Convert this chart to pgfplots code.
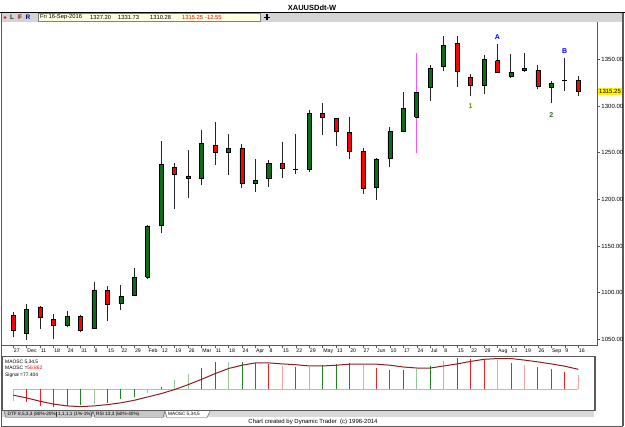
\documentclass[border=0pt]{standalone}
\usepackage{pgfplots}
\pgfplotsset{compat=1.18}
\usepackage{fontspec}
\setmainfont{Liberation Sans}

\definecolor{cgreen}{RGB}{10,110,20}
\definecolor{cred}{RGB}{255,0,0}
\definecolor{hg}{RGB}{30,130,30}
\definecolor{hlg}{RGB}{150,200,150}
\definecolor{hr}{RGB}{240,30,30}
\definecolor{hlr}{RGB}{250,160,160}
\definecolor{sig}{RGB}{140,30,35}
\definecolor{toolbar}{RGB}{212,212,212}
\definecolor{infobg}{RGB}{255,255,225}
\definecolor{frame}{RGB}{90,90,90}
\definecolor{mag}{RGB}{255,80,255}
\definecolor{one}{RGB}{110,140,0}
\definecolor{two}{RGB}{30,110,40}

% [wick colour]{position}{open}{high}{low}{close}{fill}
\newcommand{\candle}[7][black!85]{%
  \addplot[#1, line width=1pt] coordinates {(#2,#5) (#2,#4)};
  \addplot[draw=black, fill=#7, line width=0.7pt, line join=miter] coordinates {
    ({#2-0.15},#3) ({#2+0.15},#3) ({#2+0.15},#6) ({#2-0.15},#6) ({#2-0.15},#3)};}

\begin{document}
\begin{tikzpicture}
\useasboundingbox (0pt,0pt) rectangle (625pt,427pt);
% title bar
\node[font=\bfseries\fontsize{7.5}{9}\selectfont] at (312pt,419.5pt) {XAUUSDdt-W};
\draw[black, line width=0.8pt] (0pt,414.5pt) -- (625pt,414.5pt);
% toolbar
\fill[toolbar] (1.5pt,405pt) rectangle (622.5pt,414pt);
\fill[red] (5pt,409.5pt) circle (1.3pt);
\node[font=\bfseries\fontsize{6.5}{7}\selectfont, text=black!80] at (12pt,409.5pt) {L};
\node[font=\bfseries\fontsize{6.5}{7}\selectfont, text={rgb,255:red,128;green,0;blue,0}] at (20pt,409.5pt) {F};
\node[font=\bfseries\fontsize{6.5}{7}\selectfont, text={rgb,255:red,0;green,0;blue,128}] at (28pt,409.5pt) {R};
\draw[gray, fill=infobg, line width=0.4pt] (38pt,405.5pt) rectangle (260pt,413.5pt);
\begin{scope}[every node/.style={font=\fontsize{5.8}{7}\selectfont, anchor=west, inner sep=0pt}]
\node at (40pt,409.5pt) {Fri 16-Sep-2016};
\node at (90pt,409.5pt) {1327.20};
\node at (118pt,409.5pt) {1331.73};
\node at (150pt,409.5pt) {1310.28};
\node[text=red] at (182pt,409.5pt) {1315.25};
\node[text=red] at (205pt,409.5pt) {-12.55};
\end{scope}
\draw[line width=1.3pt] (264pt,409.5pt) -- (270pt,409.5pt) (267pt,406.5pt) -- (267pt,412.5pt);
% window borders
\draw[frame, line width=1pt] (1pt,0.5pt) -- (1pt,414pt);
\draw[frame, line width=1.5pt] (623pt,0.5pt) -- (623pt,414pt);
\draw[frame, line width=1pt] (1pt,0.5pt) -- (623pt,0.5pt);

% ---------------- price panel ----------------
\begin{axis}[
  at={(2pt,81pt)}, anchor=south west, scale only axis,
  width=596pt, height=324pt,
  xmin=-0.84, xmax=43.47, ymin=1042.8, ymax=1390,
  axis x line*=bottom, axis y line*=right,
  axis line style={draw=frame, line width=1pt},
  tick style={draw=frame, line width=0.5pt},
  tick align=outside, major tick length=2.5pt,
  clip=false,
  xtick={0,...,42},
  xticklabels={27,Dec,11,18,24,31,8,15,22,29,Feb,12,19,26,Mar,11,18,24,Apr,8,15,22,29,May,13,20,27,Jun,10,17,24,Jul,8,15,22,29,Aug,12,19,26,Sep,9,16},
  xticklabel style={font=\fontsize{5.2}{6}\selectfont, anchor=north west, inner xsep=0.5pt, inner ysep=0.5pt},
  ytick={1050,1100,1150,1200,1250,1300,1350},
  yticklabels={1050.00,1100.00,1150.00,1200.00,1250.00,1300.00,1350.00},
  yticklabel style={font=\fontsize{6}{7}\selectfont, inner xsep=0.8pt},
]
\candle{0}{1076.0}{1078.9}{1052.1}{1059.2}{cred}
\candle{1}{1056.0}{1087.5}{1049.3}{1081.7}{cgreen}
\candle{2}{1084.6}{1085.5}{1061.4}{1073.5}{cred}
\candle{3}{1071.4}{1076.7}{1050.0}{1065.0}{cred}
\candle{4}{1065.0}{1080.7}{1062.8}{1074.6}{cgreen}
\candle{5}{1074.6}{1076.0}{1057.5}{1060.0}{cred}
\candle{6}{1061.4}{1111.0}{1061.0}{1102.5}{cgreen}
\candle{7}{1102.1}{1107.1}{1070.0}{1087.5}{cred}
\candle{8}{1088.2}{1108.2}{1081.7}{1096.0}{cgreen}
\candle{9}{1096.7}{1126.8}{1096.0}{1116.4}{cgreen}
\candle{10}{1116.4}{1172.5}{1114.3}{1171.4}{cgreen}
\candle{11}{1171.7}{1262.1}{1163.5}{1237.1}{cgreen}
\candle{12}{1234.2}{1238.5}{1190.0}{1226.4}{cred}
\candle{13}{1225.0}{1252.8}{1201.0}{1222.5}{cred}
\candle{14}{1222.1}{1273.9}{1215.0}{1260.0}{cgreen}
\candle{15}{1258.2}{1282.5}{1237.1}{1250.0}{cred}
\candle{16}{1250.0}{1270.0}{1225.7}{1254.3}{cgreen}
\candle{17}{1254.3}{1259.2}{1211.7}{1216.7}{cred}
\candle{18}{1216.7}{1242.8}{1207.8}{1220.3}{cgreen}
\candle{19}{1222.1}{1241.7}{1213.5}{1238.5}{cgreen}
\candle{20}{1238.5}{1261.4}{1223.2}{1232.8}{cred}
\candle{21}{1232.3}{1269.6}{1226.8}{1232.1}{black}
\candle{22}{1231.8}{1295.7}{1229.6}{1292.1}{cgreen}
\candle{23}{1292.1}{1303.2}{1268.5}{1287.5}{cred}
\candle{24}{1286.8}{1287.5}{1256.7}{1272.5}{cred}
\candle{25}{1271.8}{1287.8}{1243.5}{1251.7}{cred}
\candle{26}{1251.4}{1254.6}{1206.0}{1212.1}{cred}
\candle{27}{1212.5}{1244.2}{1199.2}{1243.2}{cgreen}
\candle{28}{1243.5}{1277.5}{1234.6}{1272.8}{cgreen}
\candle{29}{1273.2}{1315.0}{1272.1}{1297.5}{cgreen}
\candle[mag]{30}{1288.2}{1357.1}{1250.0}{1314.2}{cgreen}
\candle{31}{1319.6}{1343.9}{1305.7}{1340.3}{cgreen}
\candle{32}{1342.1}{1375.0}{1337.1}{1365.3}{cgreen}
\candle{33}{1367.1}{1375.0}{1320.7}{1337.1}{cred}
\candle{34}{1331.0}{1334.2}{1310.3}{1321.7}{cred}
\candle{35}{1322.1}{1354.6}{1312.5}{1350.0}{cgreen}
\candle{36}{1348.5}{1366.4}{1335.5}{1336.0}{cred}
\candle{37}{1331.7}{1355.7}{1330.3}{1335.7}{cgreen}
\candle{38}{1337.8}{1356.4}{1336.0}{1340.3}{cgreen}
\candle{39}{1338.5}{1343.5}{1317.8}{1320.7}{cred}
\candle{40}{1319.6}{1326.4}{1302.8}{1324.2}{cgreen}
\candle{41}{1327.5}{1351.4}{1316.4}{1327.4}{black}
\candle{42}{1327.20}{1331.73}{1310.28}{1315.25}{cred}
% annotations
\node[text=blue, font=\bfseries\fontsize{7}{8}\selectfont] at (axis cs:36,1373.6) {A};
\node[text=blue, font=\bfseries\fontsize{7}{8}\selectfont] at (axis cs:41,1359.2) {B};
\node[text=one, font=\bfseries\fontsize{7}{8}\selectfont] at (axis cs:34,1300.0) {1};
\node[text=two, font=\bfseries\fontsize{7}{8}\selectfont] at (axis cs:40,1290.6) {2};
\node[fill=yellow, anchor=west, inner xsep=1pt, inner ysep=1.2pt, font=\fontsize{6}{7}\selectfont] at (axis cs:43.47,1315.25) {1315.25};
\end{axis}

% ---------------- oscillator panel ----------------
\begin{axis}[
  at={(2pt,17pt)}, anchor=south west, scale only axis,
  width=592pt, height=54pt,
  xmin=-0.84, xmax=43.17, ymin=-81, ymax=130,
  axis line style={draw=frame, line width=0.8pt},
  ticks=none,
]
\addplot[gray!55, line width=0.8pt] coordinates {(0,0) (42,0)};
\addplot[ycomb, no marks, hg, line width=0.9pt] coordinates {
 (4,-64) (5,-63) (7,-52) (8,-40) (9,-31) (11,10) (14,83) (15,105) (17,106)
 (23,94) (24,99) (25,101) (29,74) (31,90) (33,122)};
\addplot[ycomb, no marks, hlg, line width=0.9pt] coordinates {
 (6,-58) (10,-13) (12,35) (13,58) (16,106) (22,87) (30,78) (32,109)};
\addplot[ycomb, no marks, hr, line width=0.9pt] coordinates {
 (1,-49) (2,-66) (3,-69) (18,101) (19,97) (21,88) (27,83) (28,74)
 (34,120) (35,113) (37,103) (39,87) (40,78) (41,68)};
\addplot[ycomb, no marks, hlr, line width=0.9pt] coordinates {
 (0,-47) (20,92) (26,96) (36,113) (38,96) (42,57)};
\addplot[sig, line width=1pt, no marks] coordinates {
 (0,-23) (1,-34) (2,-47) (3,-58) (4,-65) (5,-68) (6,-65) (7,-60) (8,-53) (9,-43)
 (10,-30) (11,-17) (12,-1) (13,18) (14,39) (15,61) (16,81) (17,94) (18,103) (19,103)
 (20,99) (21,96) (22,91) (23,91) (24,94) (25,98) (26,98) (27,98) (28,94) (29,87)
 (30,83) (31,83) (32,91) (33,99) (34,109) (35,117) (36,120) (37,120) (38,114) (39,107)
 (40,99) (41,90) (42,78)};
\end{axis}
\draw[frame, line width=1.5pt] (595pt,16pt) -- (595pt,71pt);
\draw[frame, line width=1pt] (3pt,16.3pt) -- (595pt,16.3pt);
\begin{scope}[every node/.style={font=\fontsize{4.9}{6}\selectfont, anchor=west, inner sep=0pt}]
\node at (5pt,65.3pt) {MAOSC 5,34,5};
\node at (5pt,59pt) {MAOSC =\textcolor{red}{56.862}};
\node at (5pt,52pt) {Signal =77.404};
\end{scope}

% tabs
\fill[black!15] (2pt,9.5pt) rectangle (594pt,15.8pt);
\begin{scope}[line width=0.4pt, draw=black!70]
\filldraw[fill=black!22] (4pt,15.8pt) -- (6pt,9.5pt) -- (91pt,9.5pt) -- (93pt,15.8pt);
\filldraw[fill=black!22] (93pt,15.8pt) -- (95pt,9.5pt) -- (163pt,9.5pt) -- (165pt,15.8pt);
\filldraw[fill=white] (165pt,15.8pt) -- (167pt,9.5pt) -- (207pt,9.5pt) -- (210pt,15.8pt);
\draw (56.5pt,10pt) -- (56.5pt,15.3pt);
\end{scope}
\begin{scope}[every node/.style={font=\fontsize{4.7}{6}\selectfont, anchor=west, inner sep=0pt}]
\node at (7.5pt,12.6pt) {DTF 8,5,3,3 (80\%-20\%)};
\node at (58pt,12.6pt) {1,1,1,1 (1\%-1\%)};
\node at (96pt,12.6pt) {RSI 13,3 (60\%-40\%)};
\node at (168pt,12.6pt) {MAOSC 5,34,5};
\end{scope}
\node[font=\fontsize{6}{7}\selectfont] at (313pt,5pt) {Chart created by Dynamic Trader\ \ (c) 1996-2014};
\end{tikzpicture}
\end{document}
